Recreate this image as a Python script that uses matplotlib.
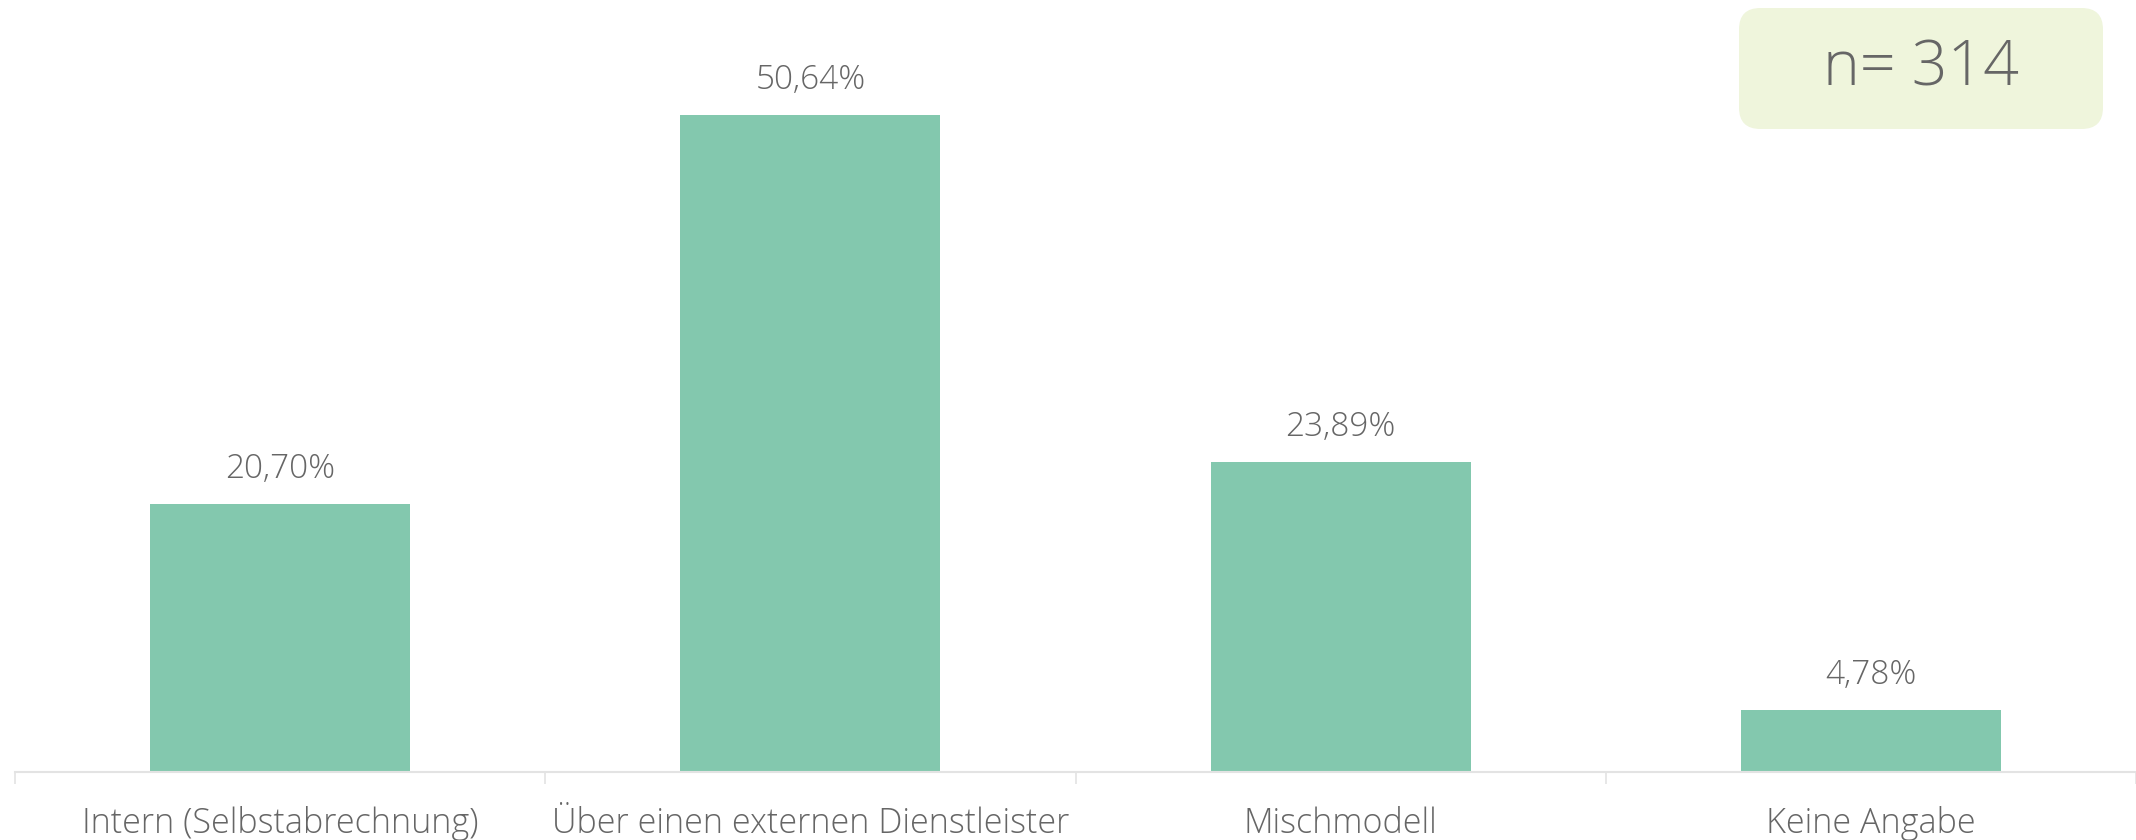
import matplotlib
matplotlib.use("Agg")
import matplotlib.pyplot as plt
from matplotlib.patches import FancyBboxPatch
from matplotlib.transforms import blended_transform_factory

categories = ["Intern (Selbstabrechnung)", "Über einen externen Dienstleister",
              "Mischmodell", "Keine Angabe"]
values = [20.70, 50.64, 23.89, 4.78]
value_labels = ["20,70%", "50,64%", "23,89%", "4,78%"]
sample_label = "n= 314"

BAR_COLOR = "#83c8ae"
TEXT_COLOR = "#666666"
AXIS_COLOR = "#e3e3e3"
BOX_COLOR = "#eff5dc"
FONT = ["Open Sans", "DejaVu Sans"]
WEIGHT = 300

W, H, DPI = 2136, 840, 100
fig = plt.figure(figsize=(W / DPI, H / DPI), dpi=DPI)

left_px, base_px = 15, 772
ax = fig.add_axes([left_px / W, (H - base_px) / H, (W - left_px) / W, base_px / H])
ax.set_xlim(-0.5, -0.5 + (W - left_px) / 531)
ax.set_ylim(0, base_px / 12.97)

x = range(len(categories))
ax.bar(x, values, width=0.49, color=BAR_COLOR, zorder=2)

for xi, v, lab in zip(x, values, value_labels):
    ax.annotate(lab, (xi, v), xytext=(0, 18.7), textcoords="offset points",
                ha="center", va="baseline", fontsize=24, color=TEXT_COLOR,
                family=FONT, fontweight=WEIGHT)

trans = blended_transform_factory(ax.transData, ax.transAxes)
for xi, cat in zip(x, categories):
    ax.annotate(cat, (xi, 0), xycoords=trans, xytext=(0, -44), textcoords="offset points",
                ha="center", va="baseline", fontsize=24.6, color=TEXT_COLOR,
                family=FONT, fontweight=WEIGHT, annotation_clip=False)

for s in ["top", "right", "left"]:
    ax.spines[s].set_visible(False)
ax.spines["bottom"].set_color(AXIS_COLOR)
ax.spines["bottom"].set_linewidth(1.5)
ax.set_yticks([])
ax.set_xticks([-0.5, 0.5, 1.5, 2.5, 3.5])
ax.set_xticklabels([])
ax.tick_params(axis="x", length=8.5, width=1.2, color=AXIS_COLOR)

# sample size badge
bx0, bx1, by0, by1 = 1739, 2103, H - 129, H - 8
badge = FancyBboxPatch((bx0 / W, by0 / H), (bx1 - bx0) / W, (by1 - by0) / H,
                       boxstyle="round,pad=0,rounding_size=0.01",
                       transform=fig.transFigure, facecolor=BOX_COLOR,
                       edgecolor="none", mutation_aspect=W / H)
fig.patches.append(badge)
fig.text((bx0 + bx1) / 2 / W, (by0 + by1) / 2 / H, sample_label, ha="center", va="center",
         fontsize=45, color=TEXT_COLOR, family=FONT, fontweight=WEIGHT)

fig.savefig("out.png", dpi=DPI)
